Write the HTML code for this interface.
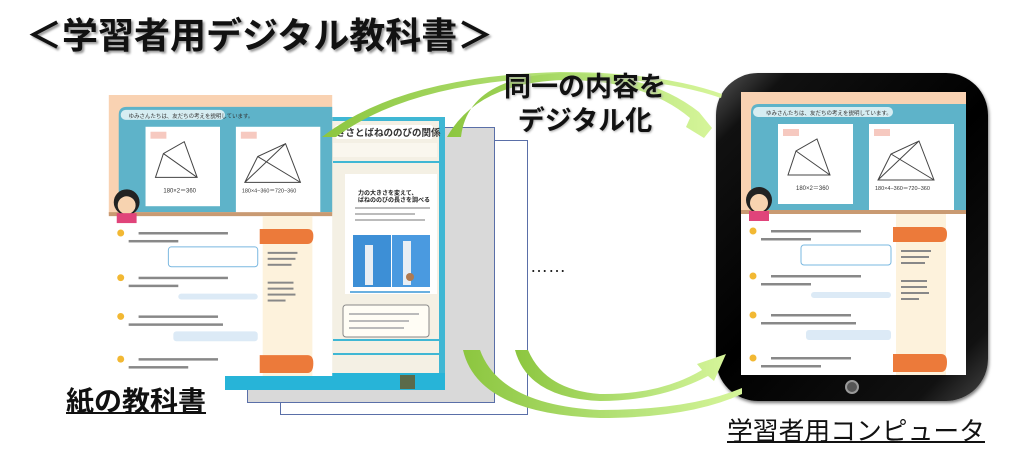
<!DOCTYPE html>
<html><head><meta charset="utf-8"><style>
html,body{margin:0;padding:0;background:#fff;}
body{width:1023px;height:465px;position:relative;overflow:hidden;font-family:"Liberation Sans","Noto Sans CJK JP",sans-serif;}
.abs{position:absolute;}
.title{left:26px;top:12px;font-size:36px;font-weight:bold;color:#111;letter-spacing:0;white-space:nowrap;text-shadow:2px 2px 2px #999;line-height:48px;}
.lbl1{left:66px;top:384px;font-size:28px;font-weight:bold;color:#111;text-decoration:underline;text-decoration-thickness:2px;line-height:36px;white-space:nowrap;}
.lbl2{left:727px;top:414px;font-size:25.8px;color:#111;text-decoration:underline;text-decoration-thickness:2px;line-height:36px;white-space:nowrap;}
.mid{left:490px;top:70px;width:190px;text-align:center;font-size:27px;font-weight:bold;color:#111;line-height:34px;text-shadow:1px 1px 2px #aaa;}
</style></head><body>

<div class="abs title">＜学習者用デジタル教科書＞</div>

<div class="abs" style="left:280px;top:140px;width:248px;height:275px;background:#fff;border:1px solid #5a6fa8;box-sizing:border-box;"></div>
<div class="abs" style="left:247px;top:127px;width:248px;height:276px;background:#d9d9d9;border:1px solid #5a6fa8;box-sizing:border-box;"></div>

<svg class="abs" style="left:225px;top:117px" width="220" height="273" viewBox="0 0 220 273">
<rect x="0" y="0" width="220" height="273" fill="#f4f0e4"/>
<rect x="214" y="0" width="6" height="273" fill="#3fb7d4"/>
<rect x="0" y="0" width="220" height="4" fill="#3fb7d4"/>
<rect x="110" y="8" width="98" height="14" rx="3" fill="#fff"/>
<text x="111" y="19" font-size="9.5" font-weight="bold" fill="#333" font-family="Liberation Sans,Noto Sans CJK JP,sans-serif">きさとばねののびの関係</text>
<rect x="108" y="26" width="104" height="14" fill="#faf7ee"/>
<rect x="108" y="44" width="106" height="2" fill="#3fb7d4"/>
<rect x="120" y="57" width="92" height="120" fill="#fff"/>
<text x="133" y="78" font-size="6" font-weight="bold" fill="#222" font-family="Liberation Sans,Noto Sans CJK JP,sans-serif">力の大きさを変えて、</text>
<text x="133" y="85" font-size="6" font-weight="bold" fill="#222" font-family="Liberation Sans,Noto Sans CJK JP,sans-serif">ばねののびの長さを調べる</text>
<rect x="130" y="90" width="75" height="2" fill="#bbb"/><rect x="130" y="96" width="60" height="2" fill="#bbb"/><rect x="130" y="102" width="70" height="2" fill="#bbb"/>
<rect x="128" y="118" width="38" height="52" fill="#3d8fd6"/>
<rect x="167" y="118" width="38" height="52" fill="#4a9ae0"/>
<rect x="140" y="128" width="8" height="40" fill="#e8eef4"/>
<rect x="178" y="124" width="8" height="44" fill="#e8eef4"/>
<circle cx="185" cy="160" r="4" fill="#b07a50"/>
<rect x="125" y="174" width="80" height="2" fill="#6ab0e0"/>
<rect x="118" y="188" width="86" height="32" rx="3" fill="#fffdf5" stroke="#888" stroke-width="1"/>
<rect x="124" y="196" width="70" height="2" fill="#bbb"/><rect x="124" y="203" width="60" height="2" fill="#bbb"/><rect x="124" y="210" width="55" height="2" fill="#bbb"/>
<rect x="108" y="222" width="106" height="2" fill="#3fb7d4"/>
<rect x="108" y="236" width="106" height="2" fill="#3fb7d4"/>
<rect x="0" y="256" width="220" height="17" fill="#27b4d8"/>
<rect x="175" y="258" width="15" height="14" fill="#5b6a4a"/>
</svg>

<svg class="abs" style="left:108px;top:95px" width="225" height="281" viewBox="0 0 225 283">
<rect x="0" y="0" width="225" height="283" fill="#fff"/>
<rect x="0" y="0" width="225" height="120" fill="#f9d2b2"/>
<path d="M10,20 Q10,12 18,12 L225,12 L225,118 L10,118 Z" fill="#5eb3c9"/>
<rect x="12" y="15" width="105" height="10" rx="5" fill="#d6edf2"/>
<text x="20" y="23" font-size="5.5" fill="#333" font-family="Liberation Sans,Noto Sans CJK JP,sans-serif">ゆみさんたちは、友だちの考えを説明しています。</text>
<rect x="37" y="32" width="75" height="80" fill="#fff"/>
<rect x="128" y="32" width="85" height="90" fill="#fff"/>
<rect x="42" y="37" width="16" height="7" fill="#f6c9c0"/><rect x="133" y="37" width="16" height="7" fill="#f6c9c0"/>
<path d="M47,83 L89,83 L76,47 L55,59 Z M55,59 L89,83" fill="none" stroke="#444" stroke-width="1"/>
<path d="M137,88 L193,88 L178,49 L150,62 Z M150,62 L193,88 M137,88 L178,49" fill="none" stroke="#444" stroke-width="1"/>
<text x="55" y="98" font-size="6" fill="#333" font-family="Liberation Sans,sans-serif">180×2＝360</text>
<text x="134" y="98" font-size="5.5" fill="#333" font-family="Liberation Sans,sans-serif">180×4−360＝720−360</text>
<rect x="0" y="118" width="225" height="4" fill="#c99a72"/>
<circle cx="18" cy="108" r="13" fill="#222"/><circle cx="18" cy="111" r="9" fill="#f7d3b0"/>
<rect x="8" y="119" width="20" height="10" fill="#e0447a"/>
<rect x="155" y="122" width="50" height="161" fill="#fdf2dc"/>
<path d="M152,135 L200,135 Q206,135 206,142 Q206,150 200,150 L152,150 Z" fill="#ec7a3a"/>
<path d="M152,262 L200,262 Q206,262 206,270 Q206,280 200,280 L152,280 Z" fill="#ec7a3a"/>
<g fill="#888">
<rect x="30" y="138" width="90" height="2.5"/><rect x="20" y="146" width="50" height="2.5"/>
<rect x="60" y="153" width="90" height="20" rx="3" fill="#fff" stroke="#7ab8e0"/>
<rect x="30" y="183" width="90" height="2.5"/><rect x="20" y="191" width="50" height="2.5"/>
<rect x="70" y="200" width="80" height="6" rx="3" fill="#dceaf6"/>
<rect x="30" y="222" width="80" height="2.5"/><rect x="20" y="230" width="95" height="2.5"/>
<rect x="65" y="238" width="85" height="10" rx="3" fill="#dceaf6"/>
<rect x="30" y="265" width="80" height="2.5"/><rect x="20" y="273" width="60" height="2.5"/>
<rect x="160" y="158" width="30" height="2"/><rect x="160" y="164" width="28" height="2"/><rect x="160" y="170" width="24" height="2"/>
<rect x="160" y="188" width="26" height="2"/><rect x="160" y="194" width="26" height="2"/><rect x="160" y="200" width="28" height="2"/><rect x="160" y="206" width="18" height="2"/>
</g>
<g fill="#f2b833"><circle cx="12" cy="139" r="3.5"/><circle cx="12" cy="184" r="3.5"/><circle cx="12" cy="223" r="3.5"/><circle cx="12" cy="266" r="3.5"/></g>
</svg>

<div class="abs" style="left:530px;top:256px;font-size:18px;color:#222;">……</div>

<div class="abs" style="left:716px;top:73px;width:272px;height:328px;border-radius:42px;background:linear-gradient(135deg,#555 0%,#111 12%,#000 50%,#111 88%,#444 100%);box-shadow:1px 2px 3px #777;"></div>
<div class="abs" style="left:845px;top:380px;width:14px;height:14px;border-radius:50%;background:#555;border:2px solid #999;box-sizing:border-box;"></div>
<svg class="abs" style="left:741px;top:92px" width="225" height="283" viewBox="0 0 225 283">
<rect x="0" y="0" width="225" height="283" fill="#fff"/>
<rect x="0" y="0" width="225" height="120" fill="#f9d2b2"/>
<path d="M10,20 Q10,12 18,12 L225,12 L225,118 L10,118 Z" fill="#5eb3c9"/>
<rect x="12" y="15" width="140" height="10" rx="5" fill="#d6edf2"/>
<text x="25" y="23" font-size="5.5" fill="#333" font-family="Liberation Sans,Noto Sans CJK JP,sans-serif">ゆみさんたちは、友だちの考えを説明しています。</text>
<rect x="37" y="32" width="75" height="80" fill="#fff"/>
<rect x="128" y="32" width="85" height="90" fill="#fff"/>
<rect x="42" y="37" width="16" height="7" fill="#f6c9c0"/><rect x="133" y="37" width="16" height="7" fill="#f6c9c0"/>
<path d="M47,83 L89,83 L76,47 L55,59 Z M55,59 L89,83" fill="none" stroke="#444" stroke-width="1"/>
<path d="M137,88 L193,88 L178,49 L150,62 Z M150,62 L193,88 M137,88 L178,49" fill="none" stroke="#444" stroke-width="1"/>
<text x="55" y="98" font-size="6" fill="#333" font-family="Liberation Sans,sans-serif">180×2＝360</text>
<text x="134" y="98" font-size="5.5" fill="#333" font-family="Liberation Sans,sans-serif">180×4−360＝720−360</text>
<rect x="0" y="118" width="225" height="4" fill="#c99a72"/>
<circle cx="18" cy="108" r="13" fill="#222"/><circle cx="18" cy="111" r="9" fill="#f7d3b0"/>
<rect x="8" y="119" width="20" height="10" fill="#e0447a"/>
<rect x="155" y="122" width="50" height="161" fill="#fdf2dc"/>
<path d="M152,135 L200,135 Q206,135 206,142 Q206,150 200,150 L152,150 Z" fill="#ec7a3a"/>
<path d="M152,262 L200,262 Q206,262 206,270 Q206,280 200,280 L152,280 Z" fill="#ec7a3a"/>
<g fill="#888">
<rect x="30" y="138" width="90" height="2.5"/><rect x="20" y="146" width="50" height="2.5"/>
<rect x="60" y="153" width="90" height="20" rx="3" fill="#fff" stroke="#7ab8e0"/>
<rect x="30" y="183" width="90" height="2.5"/><rect x="20" y="191" width="50" height="2.5"/>
<rect x="70" y="200" width="80" height="6" rx="3" fill="#dceaf6"/>
<rect x="30" y="222" width="80" height="2.5"/><rect x="20" y="230" width="95" height="2.5"/>
<rect x="65" y="238" width="85" height="10" rx="3" fill="#dceaf6"/>
<rect x="30" y="265" width="80" height="2.5"/><rect x="20" y="273" width="60" height="2.5"/>
<rect x="160" y="158" width="30" height="2"/><rect x="160" y="164" width="28" height="2"/><rect x="160" y="170" width="24" height="2"/>
<rect x="160" y="188" width="26" height="2"/><rect x="160" y="194" width="26" height="2"/><rect x="160" y="200" width="28" height="2"/><rect x="160" y="206" width="18" height="2"/>
</g>
<g fill="#f2b833"><circle cx="12" cy="139" r="3.5"/><circle cx="12" cy="184" r="3.5"/><circle cx="12" cy="223" r="3.5"/><circle cx="12" cy="266" r="3.5"/></g>
</svg>

<svg class="abs" style="left:0;top:0" width="1023" height="465" viewBox="0 0 1023 465">
<defs>
<linearGradient id="g1" x1="0" y1="0" x2="1" y2="0"><stop offset="0" stop-color="#8cc63f"/><stop offset="0.6" stop-color="#b6e37a"/><stop offset="1" stop-color="#d6f59a"/></linearGradient>
</defs>
<path d="M322,137 Q400,76 560,72 Q660,72 722,94 L721,98 Q660,77 560,77 Q410,82 336,137 Z" fill="url(#g1)"/>
<path d="M447,137 Q478,82 565,80 Q645,80 690,118 L686,127 L704,138 L712,128 L699,112 Q650,73 565,73 Q468,76 461,137 Z" fill="url(#g1)"/>
<path d="M463,350 L480,350 Q500,405 600,410 Q690,410 742,388 L742,394 Q690,418 600,418 Q478,414 463,350 Z" fill="url(#g1)"/>
<path d="M515,350 L528,350 Q545,390 600,394 Q660,395 702,370 L697,364 L726,354 L714,381 L708,376 Q660,401 600,401 Q528,398 515,350 Z" fill="url(#g1)"/>
</svg>

<div class="abs mid">同一の内容を<br>デジタル化</div>

<div class="abs lbl1">紙の教科書</div>
<div class="abs lbl2">学習者用コンピュータ</div>
</body></html>
